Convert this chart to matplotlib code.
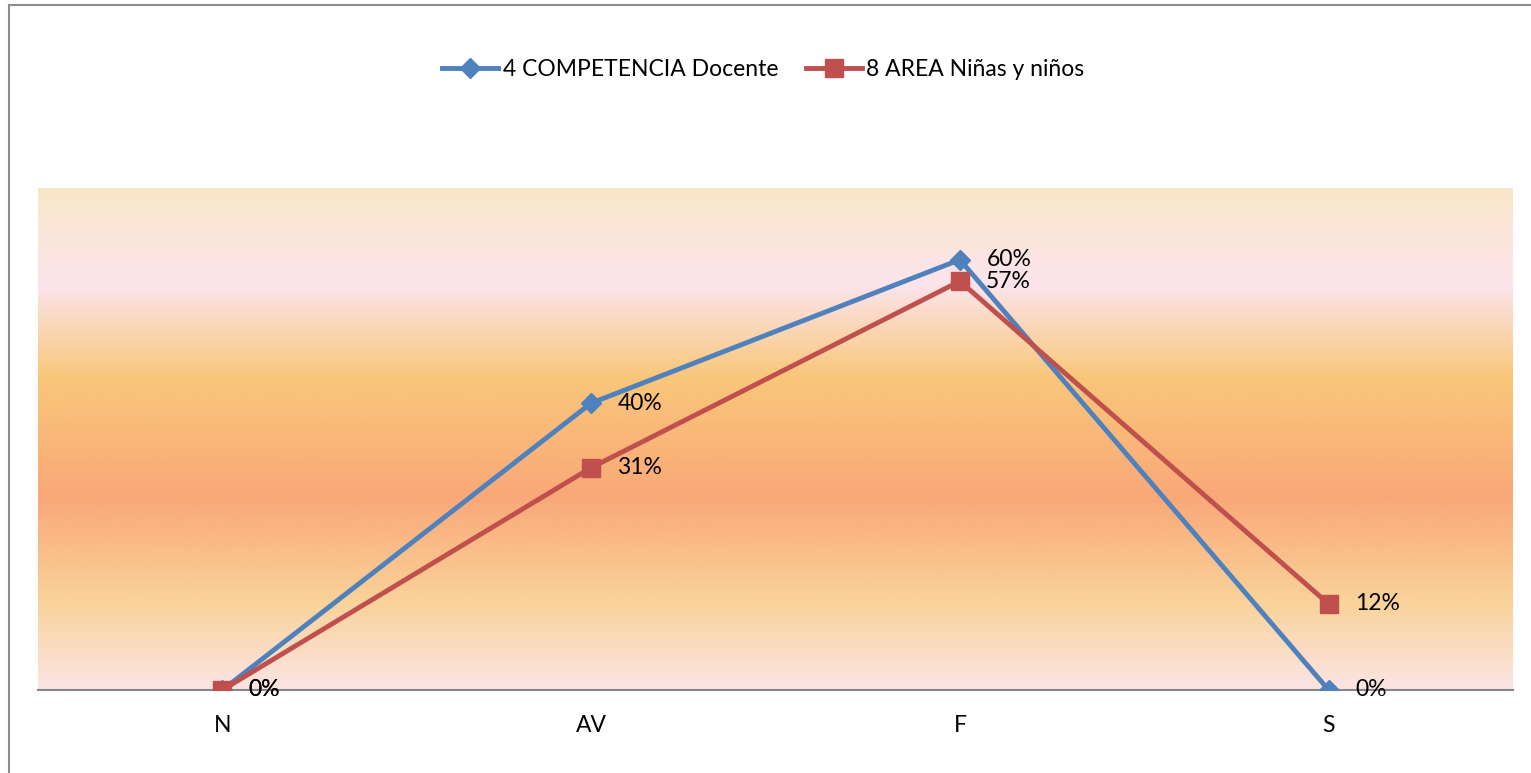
import numpy as np
import matplotlib
matplotlib.use("Agg")
import matplotlib.pyplot as plt
from matplotlib.colors import LinearSegmentedColormap
from matplotlib.lines import Line2D

categories = ["N", "AV", "F", "S"]
docente = [0.0, 0.40, 0.60, 0.0]
ninos = [0.0, 0.31, 0.57, 0.12]
labels_docente = ["0%", "40%", "60%", "0%"]
labels_ninos = ["0%", "31%", "57%", "12%"]

blue = "#4F81BD"
red = "#C0504D"
fs = 16.5

plt.rcParams["font.family"] = ["Lato", "DejaVu Sans"]

fig = plt.figure(figsize=(15.31, 7.73), dpi=100)
ax = fig.add_axes([38 / 1531, 83 / 773, 1475 / 1531, 502 / 773])

x = np.arange(len(categories))
ax.set_xlim(-0.5, 3.5)
ax.set_ylim(0, 0.7)

# fondo degradado del área de trazado
stops = [
    (0.0, "#FCE4E4"),
    (0.173, "#F9D39A"),
    (0.384, "#F9A878"),
    (0.624, "#F9C77A"),
    (0.81, "#FCE4EC"),
    (1.0, "#F9E7C9"),
]
cmap = LinearSegmentedColormap.from_list("fondo", stops)
grad = np.linspace(0, 1, 256).reshape(-1, 1)
ax.imshow(grad, cmap=cmap, aspect="auto", origin="lower",
          extent=[-0.5, 3.5, 0, 0.7], zorder=0)

ax.plot(x, docente, color=blue, lw=3.5, marker="D", markersize=10.5,
        label="4 COMPETENCIA Docente", zorder=3)
ax.plot(x, ninos, color=red, lw=3.5, marker="s", markersize=13.5,
        label="8 AREA Niñas y niños", zorder=4)

for xi, v, t in zip(x, docente, labels_docente):
    ax.annotate(t, (xi, v), xytext=(19, 0), textcoords="offset points",
                va="center", ha="left", fontsize=fs, zorder=5)
for xi, v, t in zip(x, ninos, labels_ninos):
    ax.annotate(t, (xi, v), xytext=(19, 0), textcoords="offset points",
                va="center", ha="left", fontsize=fs, zorder=5)

ax.set_xticks(x)
ax.set_xticklabels(categories, fontsize=fs)
ax.tick_params(axis="x", length=0, pad=18)
ax.set_yticks([])
for s in ["top", "left", "right"]:
    ax.spines[s].set_visible(False)
ax.spines["bottom"].set_color("#868686")
ax.spines["bottom"].set_linewidth(1.5)
ax.spines["bottom"].set_zorder(2)

fig.legend(loc="center left", bbox_to_anchor=(442 / 1531, 1 - 70 / 773), ncol=2,
           frameon=False, fontsize=fs, handlelength=2.45, handletextpad=0.2,
           columnspacing=1.2, borderpad=0, borderaxespad=0)

# borde del gráfico
fig.add_artist(Line2D([9 / 1531, 9 / 1531], [0, 1 - 5 / 773], color="#8C8C8C", lw=1.5))
fig.add_artist(Line2D([9 / 1531, 1], [1 - 5 / 773, 1 - 5 / 773], color="#8C8C8C", lw=1.5))

fig.savefig("out.png", dpi=100)
